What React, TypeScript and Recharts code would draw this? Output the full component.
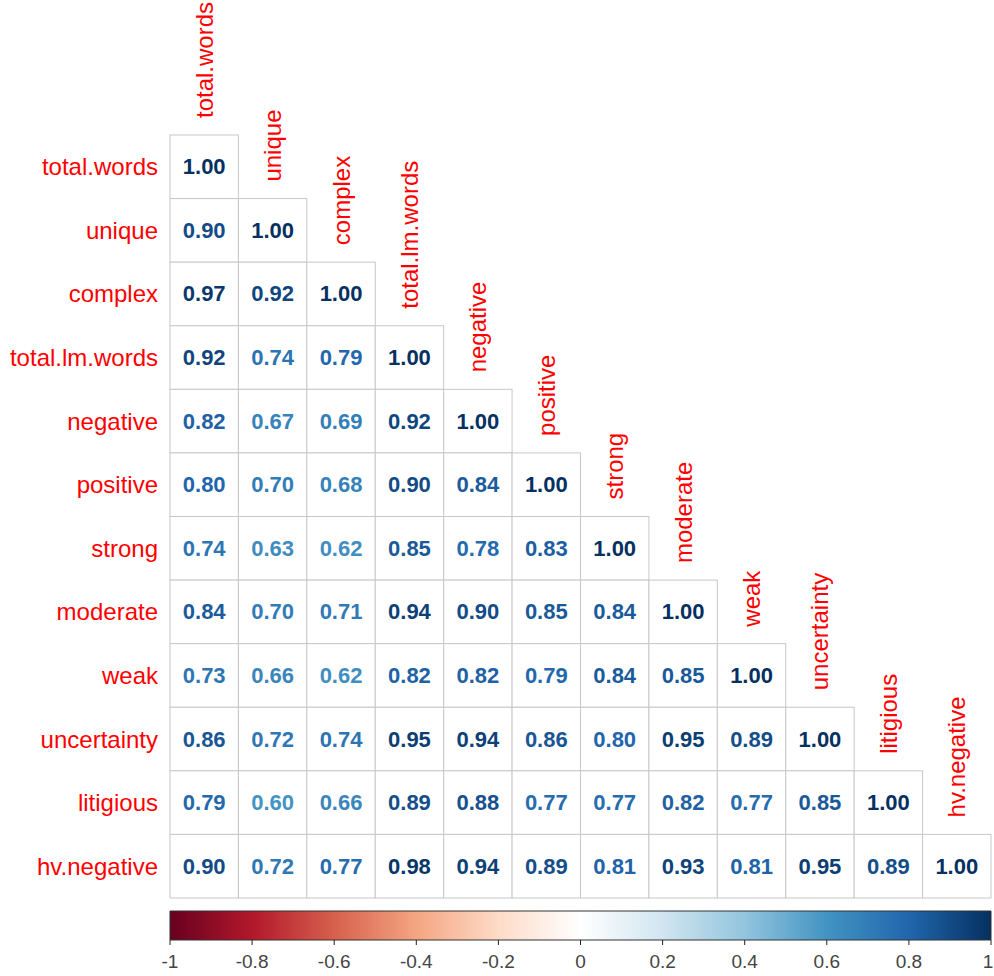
import React from 'react';
import { ScatterChart, Scatter, XAxis, YAxis, BarChart, Bar } from 'recharts';

// variable names, in matrix order
const variables = [
  'total.words', 'unique', 'complex', 'total.lm.words', 'negative', 'positive',
  'strong', 'moderate', 'weak', 'uncertainty', 'litigious', 'hv.negative',
];

// lower triangle of the correlation matrix, one row per variable
const corrRows = [
  [1.0],
  [0.9, 1.0],
  [0.97, 0.92, 1.0],
  [0.92, 0.74, 0.79, 1.0],
  [0.82, 0.67, 0.69, 0.92, 1.0],
  [0.8, 0.7, 0.68, 0.9, 0.84, 1.0],
  [0.74, 0.63, 0.62, 0.85, 0.78, 0.83, 1.0],
  [0.84, 0.7, 0.71, 0.94, 0.9, 0.85, 0.84, 1.0],
  [0.73, 0.66, 0.62, 0.82, 0.82, 0.79, 0.84, 0.85, 1.0],
  [0.86, 0.72, 0.74, 0.95, 0.94, 0.86, 0.8, 0.95, 0.89, 1.0],
  [0.79, 0.6, 0.66, 0.89, 0.88, 0.77, 0.77, 0.82, 0.77, 0.85, 1.0],
  [0.9, 0.72, 0.77, 0.98, 0.94, 0.89, 0.81, 0.93, 0.81, 0.95, 0.89, 1.0],
];

// colour bar ticks
const legendTicks = [-1, -0.8, -0.6, -0.4, -0.2, 0, 0.2, 0.4, 0.6, 0.8, 1];

// RdBu diverging palette, -1 .. 1
const palette = [
  '#67001F', '#B2182B', '#D6604D', '#F4A582', '#FDDBC7', '#FFFFFF',
  '#D1E5F0', '#92C5DE', '#4393C3', '#2166AC', '#053061',
];

const FONT = '"Liberation Sans", Arial, sans-serif';
const W = 994;
const PLOT_LEFT = 170;
const PLOT_RIGHT = 3;
const PLOT_TOP = 135;
const PLOT_BOTTOM = 898;
const n = variables.length;
const cellW = (W - PLOT_LEFT - PLOT_RIGHT) / n;
const cellH = (PLOT_BOTTOM - PLOT_TOP) / n;

const hex = (h: string) => [1, 3, 5].map(i => parseInt(h.slice(i, i + 2), 16));

const corrColor = (v: number) => {
  const pos = ((v + 1) / 2) * (palette.length - 1);
  const i = Math.min(Math.floor(pos), palette.length - 2);
  const t = pos - i;
  const a = hex(palette[i]);
  const b = hex(palette[i + 1]);
  const c = a.map((ch, k) => Math.round(ch + (b[k] - ch) * t));
  return `rgb(${c[0]},${c[1]},${c[2]})`;
};

const cells = corrRows.flatMap((row, r) =>
  row.map((value, c) => ({ x: c + 0.5, y: r + 0.5, value }))
);

const colLabels = variables.map((name, i) => ({ x: i + 0.5, y: i, name }));

const CellShape = (props: any) => {
  const { cx, cy, payload } = props;
  return (
    <g>
      <rect
        x={cx - cellW / 2}
        y={cy - cellH / 2}
        width={cellW}
        height={cellH}
        fill="#fff"
        stroke="#c8c8c8"
        strokeWidth={1}
      />
      <text
        x={cx}
        y={cy}
        textAnchor="middle"
        dominantBaseline="central"
        fontFamily={FONT}
        fontSize={22}
        fontWeight="bold"
        fill={corrColor(payload.value)}
      >
        {payload.value.toFixed(2)}
      </text>
    </g>
  );
};

const ColLabel = (props: any) => {
  const { cx, cy, payload } = props;
  const y = cy - 17;
  return (
    <text
      x={cx}
      y={y}
      transform={`rotate(-90, ${cx}, ${y})`}
      textAnchor="start"
      dominantBaseline="central"
      fontFamily={FONT}
      fontSize={24}
      fill="#ff0000"
    >
      {payload.name}
    </text>
  );
};

// colour bar tick label, kept inside the right edge of the svg
const LegendTick = (props: any) => {
  const { x, y, payload } = props;
  const label = String(payload.value);
  const tx = Math.min(x, W - 6);
  return (
    <text
      x={tx}
      y={y}
      dy="0.71em"
      textAnchor="middle"
      fontFamily={FONT}
      fontSize={19}
      fill="#444"
    >
      {label}
    </text>
  );
};

const rowTicks = variables.map((_, i) => i + 0.5);

export default function App() {
  return (
    <div style={{ position: 'absolute', left: 0, top: 0, width: W, height: 976, background: '#fff' }}>
      <div style={{ position: 'absolute', left: 0, top: 0 }}>
        <ScatterChart
          width={W}
          height={976}
          margin={{ top: PLOT_TOP, right: PLOT_RIGHT, bottom: 976 - PLOT_BOTTOM, left: 10 }}
        >
          <XAxis type="number" dataKey="x" domain={[0, n]} hide />
          <YAxis
            type="number"
            dataKey="y"
            domain={[0, n]}
            reversed
            width={160}
            ticks={rowTicks}
            interval={0}
            tickFormatter={(v: number) => variables[Math.floor(v)]}
            axisLine={false}
            tickLine={false}
            tickSize={0}
            tickMargin={12}
            tick={{ fill: '#ff0000', fontSize: 24, fontFamily: FONT }}
          />
          <Scatter data={cells} shape={CellShape} isAnimationActive={false} />
          <Scatter data={colLabels} shape={ColLabel} isAnimationActive={false} />
        </ScatterChart>
      </div>
      <div style={{ position: 'absolute', left: 0, top: PLOT_BOTTOM }}>
        <BarChart
          width={W}
          height={78}
          layout="vertical"
          data={[{ name: 'corr', range: [-1, 1] }]}
          margin={{ top: 13, right: PLOT_RIGHT, bottom: 0, left: PLOT_LEFT }}
          barCategoryGap={0}
        >
          <defs>
            <linearGradient id="rdbu" x1="0" y1="0" x2="1" y2="0">
              {palette.map((c, i) => (
                <stop key={i} offset={i / (palette.length - 1)} stopColor={c} />
              ))}
            </linearGradient>
          </defs>
          <XAxis
            type="number"
            domain={[-1, 1]}
            ticks={legendTicks}
            interval={0}
            height={36}
            axisLine={false}
            tickLine={{ stroke: '#222' }}
            tickSize={5}
            tickMargin={10}
            tick={LegendTick}
          />
          <YAxis type="category" dataKey="name" hide />
          <Bar dataKey="range" fill="url(#rdbu)" stroke="#333" strokeWidth={1} isAnimationActive={false} />
        </BarChart>
      </div>
    </div>
  );
}
